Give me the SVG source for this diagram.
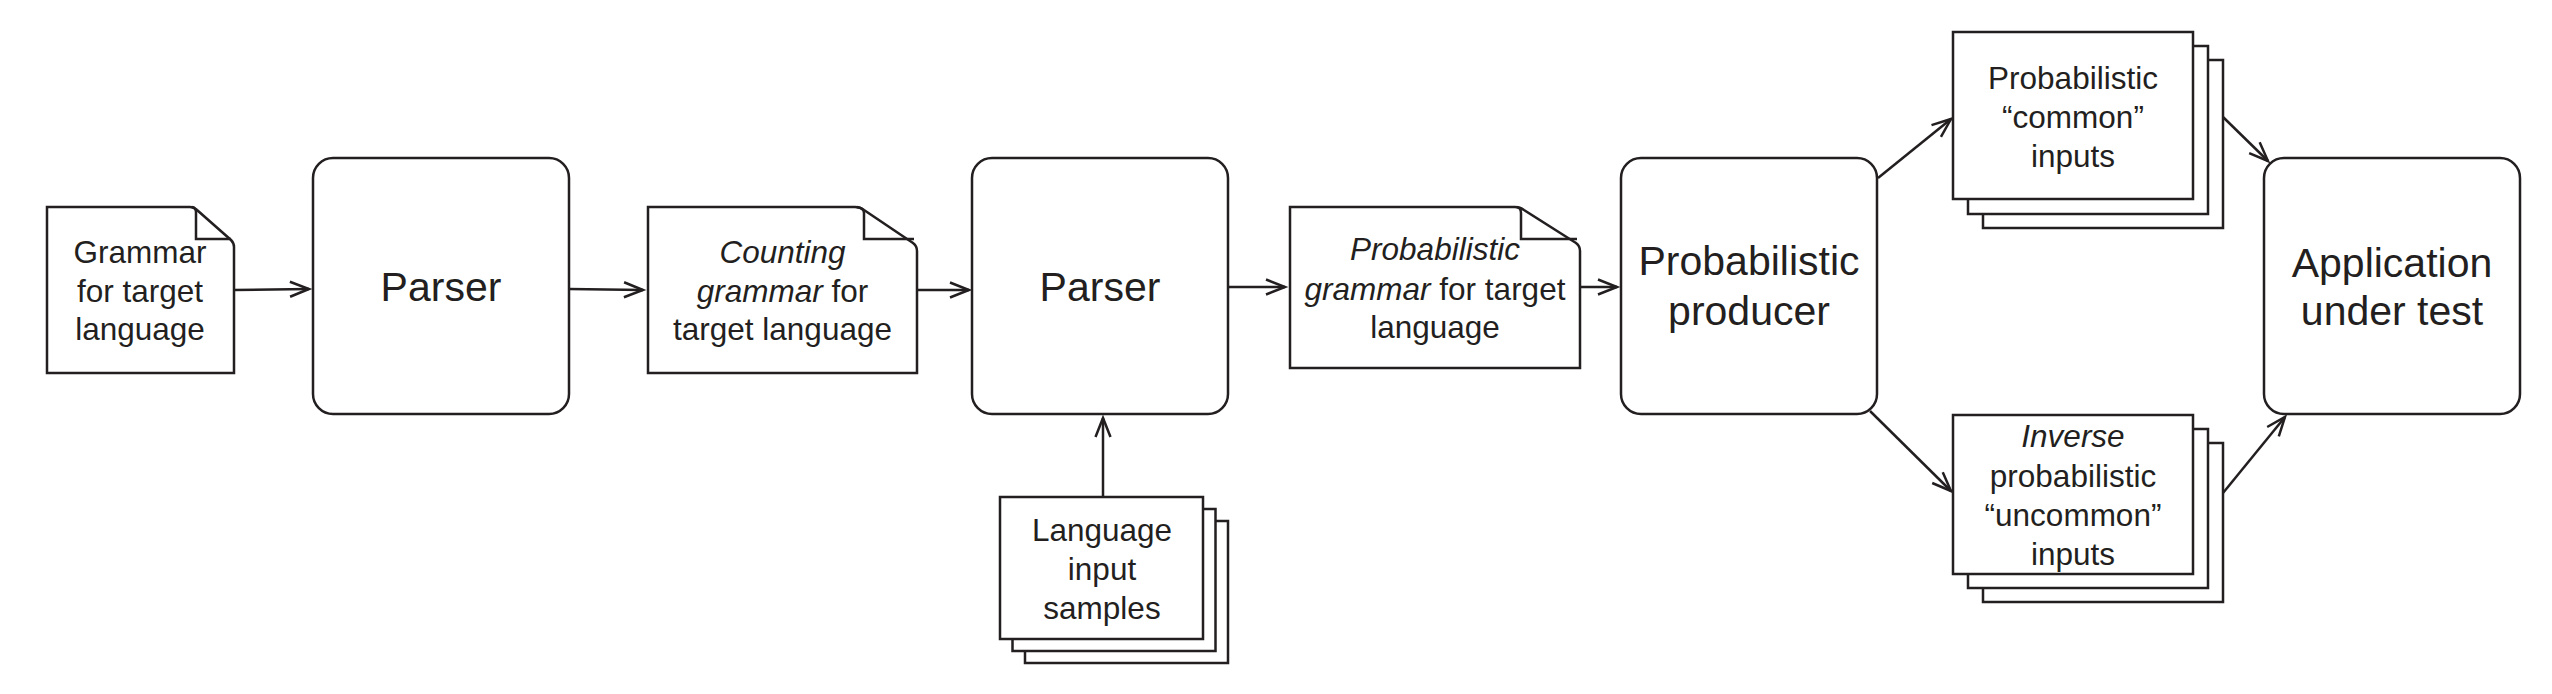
<svg xmlns="http://www.w3.org/2000/svg" width="2552" height="694" viewBox="0 0 2552 694">
<style>
.box{fill:#fff;stroke:#231f20;stroke-width:2.5}
.ln{fill:none;stroke:#231f20;stroke-width:2.5}
.t{font-family:"Liberation Sans",Arial,Helvetica,sans-serif;fill:#231f20;text-anchor:middle}
.s{font-size:31.5px}
.b{font-size:41px}
.i{font-style:italic}
</style>
<defs>
<marker id="arr" markerWidth="26" markerHeight="22" refX="21" refY="11" orient="auto" markerUnits="userSpaceOnUse" viewBox="0 0 26 22">
<path d="M2,3.5 L21,11 L2,18.5" fill="none" stroke="#231f20" stroke-width="2.5"/>
</marker>
</defs>
<rect width="2552" height="694" fill="#fff"/>

<g id="connectors">
<path class="ln" d="M234,290 L309,289" marker-end="url(#arr)"/>
<path class="ln" d="M569,289 L643,290" marker-end="url(#arr)"/>
<path class="ln" d="M917,290 L969,290" marker-end="url(#arr)"/>
<path class="ln" d="M1228,287 L1285,287" marker-end="url(#arr)"/>
<path class="ln" d="M1580,287 L1617,287" marker-end="url(#arr)"/>
<path class="ln" d="M1103,497 L1103,418" marker-end="url(#arr)"/>
<path class="ln" d="M1878,178 L1951,119" marker-end="url(#arr)"/>
<path class="ln" d="M1870,411 L1951,491" marker-end="url(#arr)"/>
<path class="ln" d="M2223,117 L2268,161" marker-end="url(#arr)"/>
<path class="ln" d="M2223,493 L2285,417" marker-end="url(#arr)"/>
</g>

<g id="grammar">
<path class="box" d="M47,207 H190 Q194,207 197,210 L231,240 Q234,243 234,247 V373 H47 Z"/>
<path class="ln" d="M192,207 Q196,208 196,212 V239 H231"/>
<text class="t s" x="140" y="263">Grammar</text>
<text class="t s" x="140" y="302">for target</text>
<text class="t s" x="140" y="340">language</text>
</g>

<g id="parser1">
<rect class="box" x="313" y="158" width="256" height="256" rx="20" ry="20"/>
<text class="t b" x="441" y="301">Parser</text>
</g>

<g id="counting">
<path class="box" d="M648,207 H855 Q860,207 864,210 L913,243 Q917,246 917,251 V373 H648 Z"/>
<path class="ln" d="M857,207 Q864,208 864,213 V239 H914"/>
<text class="t s" x="782.5" y="263"><tspan class="i">Counting</tspan></text>
<text class="t s" x="782.5" y="302"><tspan class="i">grammar</tspan> for</text>
<text class="t s" x="782.5" y="340">target language</text>
</g>

<g id="parser2">
<rect class="box" x="972" y="158" width="256" height="256" rx="20" ry="20"/>
<text class="t b" x="1100" y="301">Parser</text>
</g>

<g id="samples">
<rect class="box" x="1025" y="521" width="203" height="142"/>
<rect class="box" x="1012.5" y="509" width="203" height="142"/>
<rect class="box" x="1000" y="497" width="203" height="142"/>
<text class="t s" x="1102" y="541">Language</text>
<text class="t s" x="1102" y="580">input</text>
<text class="t s" x="1102" y="619">samples</text>
</g>

<g id="probgrammar">
<path class="box" d="M1290,207 H1515 Q1520,207 1524,210 L1576,243 Q1580,246 1580,251 V368 H1290 Z"/>
<path class="ln" d="M1517,207 Q1521,208 1521,213 V239 H1577"/>
<text class="t s" x="1435" y="260"><tspan class="i">Probabilistic</tspan></text>
<text class="t s" x="1435" y="300"><tspan class="i">grammar</tspan> for target</text>
<text class="t s" x="1435" y="338">language</text>
</g>

<g id="producer">
<rect class="box" x="1621" y="158" width="256" height="256" rx="20" ry="20"/>
<text class="t b" x="1749" y="275">Probabilistic</text>
<text class="t b" x="1749" y="325">producer</text>
</g>

<g id="common">
<rect class="box" x="1983" y="60" width="240" height="168"/>
<rect class="box" x="1968" y="46" width="240" height="168"/>
<rect class="box" x="1953" y="32" width="240" height="167"/>
<text class="t s" x="2073" y="89">Probabilistic</text>
<text class="t s" x="2073" y="128">“common”</text>
<text class="t s" x="2073" y="167">inputs</text>
</g>

<g id="uncommon">
<rect class="box" x="1983" y="443" width="240" height="159"/>
<rect class="box" x="1968" y="429" width="240" height="159"/>
<rect class="box" x="1953" y="415" width="240" height="159"/>
<text class="t s" x="2073" y="447"><tspan class="i">Inverse</tspan></text>
<text class="t s" x="2073" y="487">probabilistic</text>
<text class="t s" x="2073" y="526">“uncommon”</text>
<text class="t s" x="2073" y="565">inputs</text>
</g>

<g id="application">
<rect class="box" x="2264" y="158" width="256" height="256" rx="20" ry="20"/>
<text class="t b" x="2392" y="277">Application</text>
<text class="t b" x="2392" y="325">under test</text>
</g>
</svg>
